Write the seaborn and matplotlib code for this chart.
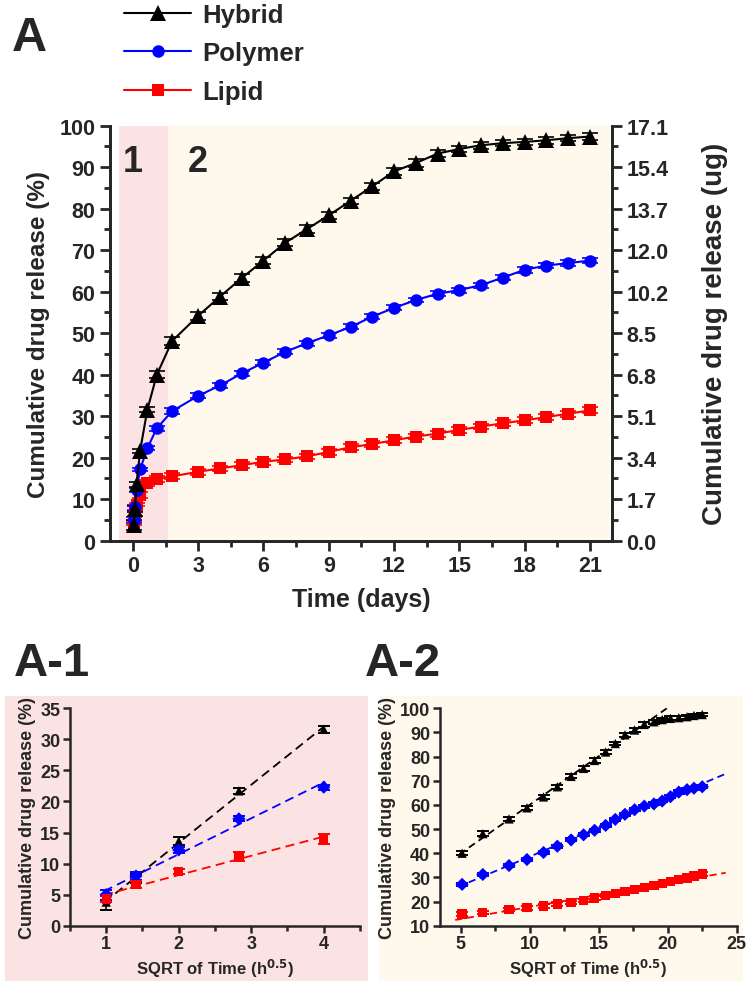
import numpy as np
import pandas as pd
import matplotlib
matplotlib.use("Agg")
import matplotlib.pyplot as plt
from matplotlib.patches import Rectangle
from matplotlib.ticker import MultipleLocator, FixedLocator
import seaborn as sns

# ---------------- data ----------------
time_days = [0.042, 0.083, 0.167, 0.333, 0.667, 1.1, 1.8, 3, 4, 5, 6, 7, 8, 9, 10,
             11, 12, 13, 14, 15, 16, 17, 18, 19, 20, 21]
hybrid = [3.8, 7.6, 13.6, 21.7, 31.6, 40.0, 48.1, 54.2, 58.8, 63.3, 67.5, 71.8, 75.1,
          78.4, 81.9, 85.4, 89.0, 91.0, 93.3, 94.4, 95.3, 95.8, 96.1, 96.5, 97.0, 97.4]
polymer = [5.0, 8.0, 12.2, 17.2, 22.3, 27.1, 31.2, 34.9, 37.4, 40.3, 42.9, 45.5, 47.6,
           49.5, 51.5, 54.0, 56.1, 58.0, 59.5, 60.4, 61.6, 63.4, 65.3, 66.3, 66.9, 67.5]
lipid = [4.3, 6.6, 8.7, 11.1, 13.9, 14.9, 15.5, 16.6, 17.4, 18.2, 19.0, 19.6, 20.3,
         21.4, 22.5, 23.3, 24.2, 25.1, 25.8, 26.7, 27.5, 28.3, 29.0, 29.8, 30.6, 31.4]
hybrid_err = [1.2, 0.7, 0.6, 0.5, 0.6, 0.8, 0.9, 0.9, 0.9, 0.9, 0.8, 0.8, 0.9, 0.9, 0.8,
              0.8, 0.8, 0.9, 0.9, 0.8, 0.8, 0.8, 0.8, 0.8, 0.8, 0.8]
polymer_err = [0.8, 0.6, 0.5, 0.4, 0.4, 0.6, 0.7, 0.6, 0.6, 0.6, 0.6, 0.6, 0.6, 0.6, 0.6,
               0.6, 0.6, 0.6, 0.6, 0.6, 0.6, 0.6, 0.7, 0.7, 0.7, 0.7]
lipid_err = [0.5, 0.6, 0.4, 0.7, 0.8, 0.7, 0.7, 0.7, 0.7, 0.7, 0.7, 0.6, 0.6, 0.7, 0.7,
             0.7, 0.7, 0.7, 0.7, 0.7, 0.7, 0.7, 0.7, 0.7, 0.7, 0.7]

# square-root-of-time axes of the inset panels (h^0.5)
sqrt_early = [1.0, 1.41, 2.0, 2.83, 4.0]        # first 5 points (phase 1)
sqrt_late = [5.1, 6.6, 8.5, 9.8, 11.0, 12.0, 13.0, 13.9, 14.7, 15.5, 16.2, 16.9,
             17.6, 18.3, 19.0, 19.6, 20.2, 20.8, 21.4, 21.9, 22.5]  # phase 2
n_early = 5
n_hybrid_fit = 14   # number of phase-2 hybrid points used for the linear fit

series_names = ["Hybrid", "Polymer", "Lipid"]
right_labels = ["0.0", "1.7", "3.4", "5.1", "6.8", "8.5", "10.2", "12.0", "13.7", "15.4", "17.1"]
x_ticks_main = [0, 3, 6, 9, 12, 15, 18, 21]

colors = {"Hybrid": "#000000", "Polymer": "#0000FF", "Lipid": "#FF0000"}
main_markers = {"Hybrid": "^", "Polymer": "o", "Lipid": "s"}
main_msize = {"Hybrid": 11, "Polymer": 9, "Lipid": 8}
inset_markers = {"Hybrid": "^", "Polymer": "D", "Lipid": "s"}

PINK = "#FCE3E3"
CREAM = "#FEF9EC"

# ---------------- style ----------------
sns.set_theme(style="ticks")
plt.rcParams["font.family"] = ["Liberation Sans", "DejaVu Sans"]
plt.rcParams["font.weight"] = "bold"
plt.rcParams["axes.labelweight"] = "bold"
plt.rcParams["axes.linewidth"] = 2.0
plt.rcParams["mathtext.default"] = "regular"

values = {"Hybrid": hybrid, "Polymer": polymer, "Lipid": lipid}
errs = {"Hybrid": hybrid_err, "Polymer": polymer_err, "Lipid": lipid_err}

df = pd.concat([
    pd.DataFrame({"t": time_days, "v": values[n], "e": errs[n], "series": n})
    for n in series_names
], ignore_index=True)

fig = plt.figure(figsize=(7.5, 9.87), dpi=100)

# ---------------- main panel A ----------------
ax = fig.add_axes([0.1467, 0.4512, 0.669, 0.4204])
ax.set_xlim(-1.05, 22.0)
ax.set_ylim(0, 100)
ax.axvspan(-0.63, 1.63, color=PINK, zorder=0, lw=0)
ax.axvspan(1.63, 21.9, color=CREAM, zorder=0, lw=0)

for n in series_names[::-1]:
    sub = df[df.series == n]
    ax.errorbar(sub.t, sub.v, yerr=sub.e, fmt="none", ecolor=colors[n],
                elinewidth=1.2, capsize=6, capthick=1.2, zorder=3)
for n in series_names[::-1]:
    sub = df[df.series == n]
    sns.lineplot(data=sub, x="t", y="v", ax=ax, color=colors[n], marker=main_markers[n],
                 markersize=main_msize[n], markeredgewidth=0, linewidth=1.5,
                 label=n, legend=False, zorder=4, errorbar=None, sort=False)

ax.set_xticks(x_ticks_main)
ax.xaxis.set_minor_locator(MultipleLocator(1.5))
ax.set_yticks(range(0, 101, 10))
ax.yaxis.set_minor_locator(MultipleLocator(5))
ax.tick_params(which="major", length=7, width=2.0, labelsize=15.5, direction="out")
ax.tick_params(which="minor", length=4, width=2.0, direction="out")
for lab in ax.get_xticklabels() + ax.get_yticklabels():
    lab.set_fontweight("bold")
ax.spines["top"].set_visible(False)
ax.set_xlabel("Time (days)", fontsize=18, fontweight="bold", labelpad=8)
ax.set_ylabel("Cumulative drug release (%)", fontsize=17.5, fontweight="bold", labelpad=7)
ax.text(0.0, 91.5, "1", fontsize=26, fontweight="bold", ha="center", va="center")
ax.text(3.0, 91.5, "2", fontsize=26, fontweight="bold", ha="center", va="center")

ax2 = ax.twinx()
ax2.set_ylim(0, 100)
ax2.yaxis.set_major_locator(FixedLocator(range(0, 101, 10)))
ax2.set_yticklabels(right_labels)
ax2.yaxis.set_minor_locator(MultipleLocator(5))
ax2.tick_params(which="major", length=7, width=2.0, labelsize=15.5, direction="out")
ax2.tick_params(which="minor", length=4, width=2.0, direction="out")
for lab in ax2.get_yticklabels():
    lab.set_fontweight("bold")
ax2.spines["top"].set_visible(False)
ax2.set_ylabel("Cumulative drug release (ug)", fontsize=20, fontweight="bold", labelpad=24)

handles, labels = ax.get_legend_handles_labels()
order = [labels.index(n) for n in series_names]
fig.legend([handles[i] for i in order], [labels[i] for i in order],
           loc="upper left", bbox_to_anchor=(0.152, 1.006), frameon=False,
           prop={"weight": "bold", "size": 18.5}, handlelength=2.6,
           labelspacing=0.55, handletextpad=0.45, borderaxespad=0)

fig.text(0.016, 0.961, "A", fontsize=35, fontweight="bold", va="center", ha="left")

# ---------------- panel backgrounds ----------------
fig.add_artist(Rectangle((5 / 750, 1 - 982 / 987), 363 / 750, 285 / 987,
                         transform=fig.transFigure, color=PINK, zorder=-5, lw=0))
fig.add_artist(Rectangle((379 / 750, 1 - 982 / 987), 364 / 750, 285 / 987,
                         transform=fig.transFigure, color=CREAM, zorder=-5, lw=0))
fig.text(0.018, 0.327, "A-1", fontsize=34, fontweight="bold", va="center", ha="left")
fig.text(0.487, 0.327, "A-2", fontsize=34, fontweight="bold", va="center", ha="left")


def style_inset(a):
    a.set_facecolor("none")
    a.spines["top"].set_visible(False)
    a.spines["right"].set_visible(False)
    for s in ("left", "bottom"):
        a.spines[s].set_linewidth(1.8)
    a.tick_params(which="major", length=5, width=1.8, labelsize=13, direction="out", pad=2)
    a.tick_params(which="minor", length=3.5, width=1.8, direction="out")
    for lab in a.get_xticklabels() + a.get_yticklabels():
        lab.set_fontweight("bold")
    a.set_xlabel("SQRT of Time (h$^{\\mathbf{0.5}}$)", fontsize=12, fontweight="bold", labelpad=3)
    a.set_ylabel("Cumulative drug release (%)", fontsize=13, fontweight="bold", labelpad=3)


# ---------------- A-1 ----------------
a1 = fig.add_axes([0.0933, 0.0611, 0.3867, 0.2203])
for n in series_names:
    y = values[n][:n_early]
    e = errs[n][:n_early]
    a1.errorbar(sqrt_early, y, yerr=e, fmt="none", ecolor=colors[n], elinewidth=1.2,
                capsize=4.5, capthick=1.4, zorder=3)
    sns.scatterplot(x=sqrt_early, y=y, ax=a1, color=colors[n], marker=inset_markers[n],
                    s=45, edgecolor="none", zorder=4)
    k, b = np.polyfit(sqrt_early, y, 1)
    xs = np.array([min(sqrt_early) - 0.03, max(sqrt_early) + 0.02])
    a1.plot(xs, k * xs + b, ls=(0, (5, 3)), color=colors[n], lw=1.3, zorder=2)
a1.set_xlim(0.5, 4.5)
a1.set_ylim(0, 35)
a1.set_xticks([1, 2, 3, 4])
a1.xaxis.set_minor_locator(MultipleLocator(0.5))
a1.set_yticks(range(0, 36, 5))
style_inset(a1)

# ---------------- A-2 ----------------
a2 = fig.add_axes([0.5867, 0.0611, 0.3956, 0.2203])
fit_sets = {
    "Hybrid": (sqrt_late[:n_hybrid_fit], hybrid[n_early:n_early + n_hybrid_fit], (4.9, 20.3)),
    "Polymer": (sqrt_late, polymer[n_early:], (4.8, 24.2)),
    "Lipid": (sqrt_late, lipid[n_early:], (4.6, 24.2)),
}
for n in series_names:
    y = values[n][n_early:]
    e = errs[n][n_early:]
    a2.errorbar(sqrt_late, y, yerr=e, fmt="none", ecolor=colors[n], elinewidth=1.2,
                capsize=4.5, capthick=1.4, zorder=3)
    sns.scatterplot(x=sqrt_late, y=y, ax=a2, color=colors[n], marker=inset_markers[n],
                    s=45, edgecolor="none", zorder=4)
    fx, fy, rng = fit_sets[n]
    k, b = np.polyfit(fx, fy, 1)
    xs = np.array(rng)
    a2.plot(xs, k * xs + b, ls=(0, (4, 2.5)), color=colors[n], lw=1.3, zorder=2)
a2.set_xlim(3.5, 25)
a2.set_ylim(10, 100)
a2.set_xticks([5, 10, 15, 20, 25])
a2.xaxis.set_minor_locator(MultipleLocator(2.5))
a2.set_yticks(range(10, 101, 10))
style_inset(a2)

fig.savefig("out.png", dpi=100)
